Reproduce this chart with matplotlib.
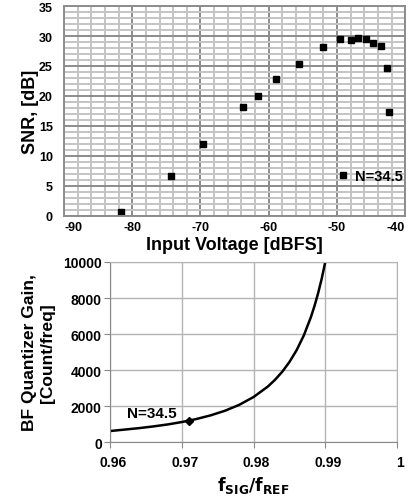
import matplotlib
matplotlib.use("Agg")
import matplotlib.pyplot as plt
from matplotlib.ticker import MultipleLocator
from matplotlib.transforms import ScaledTranslation

plt.rcParams['font.family'] = ['Liberation Sans', 'DejaVu Sans']
plt.rcParams['axes.unicode_minus'] = False

# SNR vs input voltage
vin = [-81.7, -74.3, -69.7, -63.7, -61.6, -58.9, -55.6, -52.1, -49.6,
       -47.9, -46.9, -45.8, -44.7, -43.6, -42.6, -42.3]
snr = [0.7, 6.7, 12.0, 18.2, 20.0, 22.9, 25.4, 28.2, 29.5,
       29.4, 29.7, 29.5, 28.8, 28.4, 24.6, 17.4]
vin_ticks = [-90, -80, -70, -60, -50, -40]

# quantizer gain vs fsig/fref
fratio = [0.960, 0.962, 0.964, 0.966, 0.968, 0.970, 0.972, 0.974, 0.976,
          0.978, 0.980, 0.982, 0.983, 0.984, 0.985, 0.986, 0.987, 0.988,
          0.9885, 0.989, 0.9895, 0.990]
gain = [610, 690, 770, 865, 975, 1110, 1275, 1480, 1735,
        2065, 2500, 3085, 3460, 3905, 4445, 5100, 5915, 6945,
        7560, 8265, 9070, 10000]
op_x = [0.971]
op_y = [1190]
f_ticks = [0.96, 0.97, 0.98, 0.99, 1.0]
f_labels = ['0.96', '0.97', '0.98', '0.99', '1']

fig = plt.figure(figsize=(4.08, 5.02), dpi=100)

# top plot
ax1 = fig.add_axes([0.157, 0.568, 0.836, 0.418])
ax1.plot(vin, snr, 's', color='black', markersize=5, label='N=34.5')
ax1.set_xlim(-90, -40)
ax1.set_ylim(0, 35)
ax1.set_xticks(vin_ticks)
ax1.set_xticklabels([str(v) for v in vin_ticks])
ax1.xaxis.set_minor_locator(MultipleLocator(2))
ax1.yaxis.set_major_locator(MultipleLocator(5))
ax1.yaxis.set_minor_locator(MultipleLocator(1))
ax1.grid(which='minor', color='#c4c4c4', linewidth=1.4)
ax1.grid(which='major', color='#8c8c8c', linewidth=1.4)
ax1.set_axisbelow(True)
for s in ax1.spines.values():
    s.set_color('#8c8c8c')
    s.set_linewidth(1.4)
ax1.tick_params(which='both', length=0, labelsize=9)
ax1.tick_params(axis='y', pad=8)
ax1.tick_params(axis='x', pad=4)
ax1.set_xlabel('Input Voltage [dBFS]', fontsize=13, fontweight='bold', labelpad=2)
ax1.set_ylabel('SNR, [dB]', fontsize=13, fontweight='bold', labelpad=0)
ax1.legend(loc='center right', frameon=False, handletextpad=0.3,
           prop={'weight': 'bold', 'size': 10.5}, bbox_to_anchor=(0.992, 0.191),
           borderaxespad=0, borderpad=0, handlelength=1.0)

# bottom plot
ax2 = fig.add_axes([0.270, 0.1175, 0.703, 0.3586])
ax2.plot(fratio, gain, '-', color='black', linewidth=1.8)
ax2.plot(op_x, op_y, 'D', color='black', markersize=4)
ax2.text(0.9623, 1600, 'N=34.5', fontsize=11, fontweight='bold', ha='left', va='center')
ax2.set_xlim(0.96, 1.0)
ax2.set_ylim(0, 10000)
ax2.set_xticks(f_ticks)
ax2.set_xticklabels(f_labels)
ax2.yaxis.set_major_locator(MultipleLocator(2000))
ax2.grid(color='#b4b4b4', linewidth=1.0)
ax2.set_axisbelow(True)
for s in ax2.spines.values():
    s.set_color('#b4b4b4')
ax2.spines['left'].set_color('#888888')
ax2.spines['bottom'].set_color('#888888')
ax2.tick_params(length=4, labelsize=10, color='#888888', pad=2)
ax2.tick_params(axis='x', pad=5)
ax2.set_xlabel(r'$\mathbf{f_{SIG}/f_{REF}}$', fontsize=12.5, labelpad=4)
ax2.set_ylabel('BF Quantizer Gain,\n[Count/freq]', fontsize=12.5, fontweight='bold',
               labelpad=6)

# tweak tick labels after a first draw so the tick objects exist
fig.canvas.draw()
xl = ax1.get_xticklabels()
for lab in xl + ax1.get_yticklabels():
    lab.set_fontweight('bold')
xl[0].set_ha('left')
xl[-1].set_ha('right')
shift = ScaledTranslation(3 / 100, 0, fig.dpi_scale_trans)
for lab in ax2.get_xticklabels():
    lab.set_fontweight('bold')
    lab.set_transform(lab.get_transform() + shift)
for lab in ax2.get_yticklabels():
    lab.set_fontweight('bold')

fig.savefig('out.png', dpi=100)
